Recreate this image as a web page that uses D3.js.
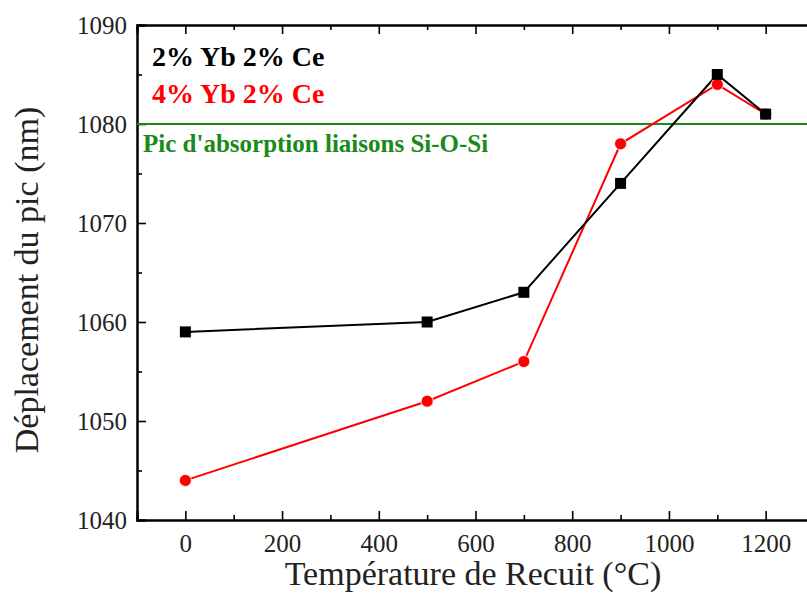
<!DOCTYPE html>
<html><head><meta charset="utf-8">
<script src="https://cdn.jsdelivr.net/npm/d3@7"></script>
<style>body{margin:0;background:#fff}</style>
</head><body>
<script>
const temps = [0, 500, 700, 900, 1100, 1200];
const serie1 = [1059, 1060, 1063, 1074, 1085, 1081]; // 2% Yb 2% Ce
const serie2 = [1044, 1052, 1056, 1078, 1084, 1081]; // 4% Yb 2% Ce
const xTicks = [0, 200, 400, 600, 800, 1000, 1200];
const yTicks = [1040, 1050, 1060, 1070, 1080, 1090];
const refLine = 1080;
const legendLabels = ["2% Yb 2% Ce", "4% Yb 2% Ce"];
const refLabel = "Pic d'absorption liaisons Si-O-Si";

const W = 807, H = 595;
const svg = d3.select("body").append("svg").attr("width", W).attr("height", H);
const x = d3.scaleLinear().domain([-100, 1300]).range([137, 814]);
const y = d3.scaleLinear().domain([1040, 1090]).range([520, 25]);
const font = "'Liberation Serif', 'Times New Roman', serif";

svg.append("defs").append("clipPath").attr("id","c").append("rect")
  .attr("x",137).attr("y",25).attr("width",680).attr("height",495);

const xMinor = d3.range(-100,1301,100).filter(v=>v%200!==0);
const gx = svg.append("g").attr("transform","translate(0,520)")
  .call(d3.axisBottom(x).tickValues(xTicks).tickSize(-9).tickPadding(14).tickFormat(d3.format("d")));
const m1 = svg.append("g").attr("transform","translate(0,520)")
  .call(d3.axisBottom(x).tickValues(xMinor).tickSize(-5).tickFormat(""));
const t1 = svg.append("g").attr("transform","translate(0,25)")
  .call(d3.axisTop(x).tickValues(xTicks).tickSize(-9).tickFormat(""));
const t2 = svg.append("g").attr("transform","translate(0,25)")
  .call(d3.axisTop(x).tickValues(xMinor).tickSize(-5).tickFormat(""));
const gy = svg.append("g").attr("transform","translate(137,0)")
  .call(d3.axisLeft(y).tickValues(yTicks).tickSize(-9).tickPadding(10).tickFormat(d3.format("d")));
const m2 = svg.append("g").attr("transform","translate(137,0)")
  .call(d3.axisLeft(y).tickValues(d3.range(1045,1090,10)).tickSize(-5).tickFormat(""));
[m1,t1,t2,m2].forEach(g=>g.selectAll(".tick text").remove());
svg.selectAll(".domain").attr("stroke","#000").attr("stroke-width",2);
svg.selectAll(".tick line").attr("stroke","#000").attr("stroke-width",1.6);
svg.selectAll(".tick text").style("font-family",font).style("font-size","25px").attr("fill","#222");
gy.selectAll(".tick text").attr("dy","0.35em");

svg.append("text").attr("x",473).attr("y",585).attr("text-anchor","middle")
  .style("font-family",font).style("font-size","34px").attr("fill","#222").text("Température de Recuit (°C)");
svg.append("text").attr("transform","translate(38,280) rotate(-90)").attr("text-anchor","middle")
  .style("font-family",font).style("font-size","34px").attr("fill","#222").text("Déplacement du pic (nm)");

const plot = svg.append("g").attr("clip-path","url(#c)");
plot.append("line").attr("x1",137).attr("x2",W).attr("y1",y(refLine)).attr("y2",y(refLine))
  .attr("stroke","#1a8a1a").attr("stroke-width",2);

const line = d3.line().x(d=>x(d[0])).y(d=>y(d[1]));
const d1 = temps.map((t,i)=>[t,serie1[i]]);
const d2 = temps.map((t,i)=>[t,serie2[i]]);
plot.append("path").datum(d2).attr("d",line).attr("fill","none").attr("stroke","#f00").attr("stroke-width",2);
plot.append("path").datum(d1).attr("d",line).attr("fill","none").attr("stroke","#000").attr("stroke-width",2);
plot.selectAll("circle").data(d2).join("circle").attr("cx",d=>x(d[0])).attr("cy",d=>y(d[1]))
  .attr("r",6).attr("fill","#f00").attr("stroke","#fff").attr("stroke-width",0.8);
plot.selectAll("rect.sq").data(d1).join("rect").attr("class","sq")
  .attr("x",d=>x(d[0])-5.5).attr("y",d=>y(d[1])-5.5).attr("width",11).attr("height",11).attr("fill","#000");

svg.append("text").attr("x",152).attr("y",66).style("font-family",font).style("font-weight","bold")
  .style("font-size","28px").attr("fill","#000").text(legendLabels[0]);
svg.append("text").attr("x",152).attr("y",103).style("font-family",font).style("font-weight","bold")
  .style("font-size","28px").attr("fill","#f00").text(legendLabels[1]);
svg.append("text").attr("x",143).attr("y",152).style("font-family",font).style("font-weight","bold")
  .style("font-size","25px").attr("fill","#1a8a1a").text(refLabel);
</script>
</body></html>
